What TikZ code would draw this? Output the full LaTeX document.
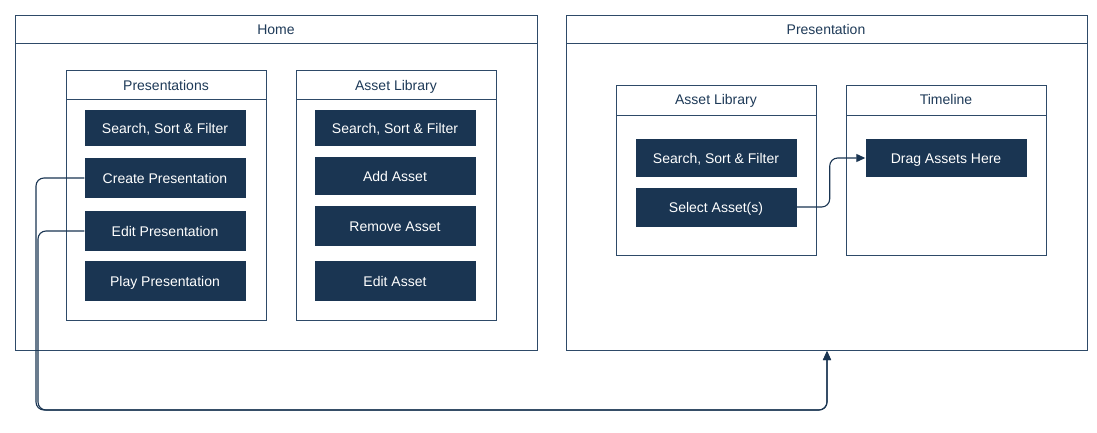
\documentclass[tikz,border=0pt]{standalone}
\usepackage{fontspec}
\setmainfont{Liberation Sans}
\usetikzlibrary{arrows.meta,positioning,calc}
\definecolor{uinavy}{HTML}{1A3552}
\definecolor{uiedge}{HTML}{2E4A68}
\definecolor{uitext}{HTML}{1E3A58}

\tikzset{
    frame/.style={draw=uiedge, line width=1pt, fill=white, anchor=north west, inner sep=0pt},
    heading/.style={text=uitext, font=\fontsize{14}{16}\selectfont,
        text height=11pt, text depth=1pt},
    btn/.style={fill=uinavy, text=white, font=\fontsize{14}{16}\selectfont,
        text height=11pt, text depth=1pt,
        minimum width=161pt, minimum height=38pt, inner sep=0pt},
    flow/.style={draw=uinavy, line width=1.1pt, rounded corners=8pt,
        -{Triangle[length=9pt,width=8pt]}}
}

\begin{document}
\begin{tikzpicture}[x=1pt, y=-1pt]
    \useasboundingbox (0,0) rectangle (1097,433);

    % Home page
    \node[frame, minimum width=522pt, minimum height=335pt] (home) at (15,15) {};
    \draw[uiedge, line width=1pt] (15,44) -- (537,44);
    \node[heading] (homet) at (276,30) {Home};

    % Presentations list
    \node[frame, minimum width=200pt, minimum height=250pt] (plist) at (66,70) {};
    \draw[uiedge, line width=1pt] (66,100) -- (266,100);
    \node[heading] (plistt) at (166,86) {Presentations};
    \node[btn, minimum height=36pt] (psearch) at (165,128) {Search, Sort \& Filter};
    \node[btn, minimum height=40pt] (pcreate) at (165,178) {Create Presentation};
    \node[btn, minimum height=40pt] (pedit) at (165,231) {Edit Presentation};
    \node[btn, minimum height=40pt] (pplay) at (165,281) {Play Presentation};

    % Asset library (home)
    \node[frame, minimum width=200pt, minimum height=250pt] (alib) at (296,70) {};
    \draw[uiedge, line width=1pt] (296,100) -- (496,100);
    \node[heading] (alibt) at (396,86) {Asset Library};
    \node[btn, minimum height=36pt] (asearch) at (395,128) {Search, Sort \& Filter};
    \node[btn] (aadd) at (395,176) {Add Asset};
    \node[btn, minimum height=40pt] (aremove) at (395,226) {Remove Asset};
    \node[btn, minimum height=40pt] (aedit) at (395,281) {Edit Asset};

    % Presentation page
    \node[frame, minimum width=521pt, minimum height=335pt] (pres) at (566,15) {};
    \draw[uiedge, line width=1pt] (566,44) -- (1087,44);
    \node[heading] (prest) at (826,30) {Presentation};

    % Asset library (presentation)
    \node[frame, minimum width=200pt, minimum height=170pt] (plib) at (616,85) {};
    \draw[uiedge, line width=1pt] (616,116) -- (816,116);
    \node[heading] (plibt) at (716,100) {Asset Library};
    \node[btn, minimum height=37pt] (lsearch) at (716,158) {Search, Sort \& Filter};
    \node[btn, minimum height=39pt] (lselect) at (716,207) {Select Asset(s)};

    % Timeline
    \node[frame, minimum width=200pt, minimum height=170pt] (tline) at (846,85) {};
    \draw[uiedge, line width=1pt] (846,116) -- (1046,116);
    \node[heading] (tlinet) at (946,100) {Timeline};
    \node[btn, minimum height=37pt] (tdrag) at (946,158) {Drag Assets Here};

    % connectors
    \coordinate (lane) at (36,410);
    \draw[flow] (pcreate.west) -| (lane) -| (pres.south);
    \draw[flow] (pedit.west) -| ([xshift=2pt]lane) -| (pres.south);
    \draw[flow] (lselect.east) -- ++(33,0) |- (tdrag.west);
\end{tikzpicture}
\end{document}
